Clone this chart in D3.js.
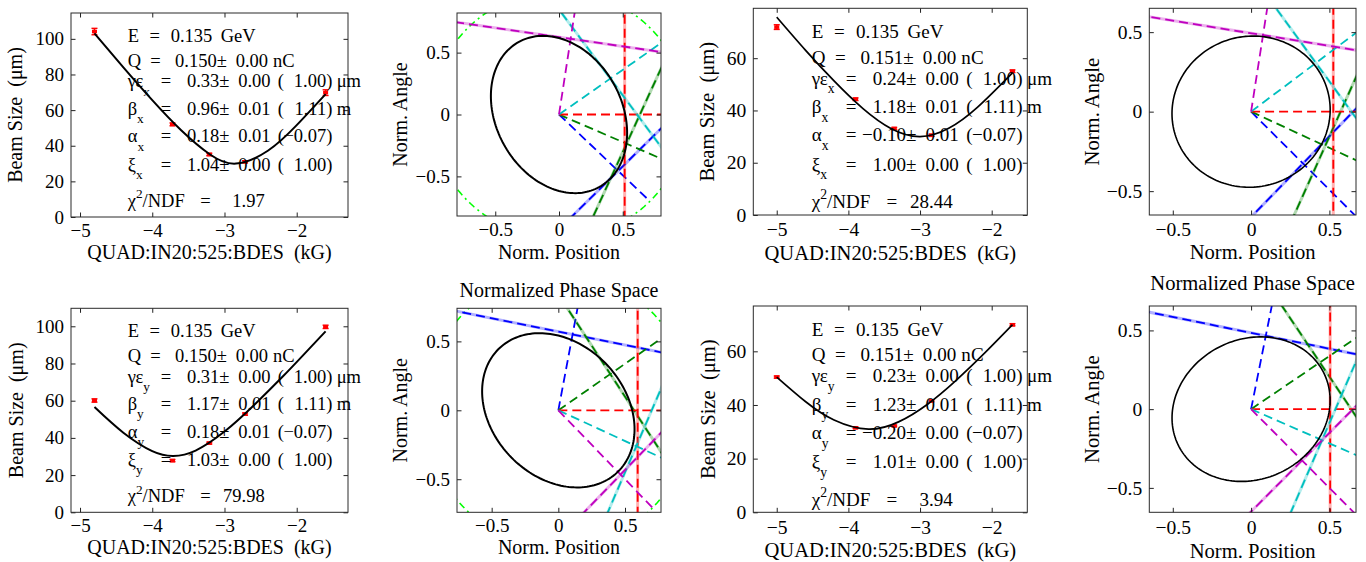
<!DOCTYPE html>
<html>
<head>
<meta charset="utf-8">
<script src="https://cdn.jsdelivr.net/npm/d3@7"></script>
<style>
  html, body { margin: 0; padding: 0; background: #fff; }
  svg, svg text { font-family: "Liberation Serif", "DejaVu Serif", "Times New Roman", serif; }
  text { white-space: pre; fill: #000; }
</style>
</head>
<body>
<svg id="fig" width="1366" height="562"></svg>
<script>
// ---- quad scan settings (kG) ----
const quadScan1 = [-4.80, -3.72, -3.21, -2.715, -1.60];
const quadScan2 = [-5.00, -3.90, -3.36, -2.84, -1.71];

// ---- measured beam sizes (um) with errors ----
const sizeX1 = [104.1, 52.0, 35.1, 31.0, 69.8];
const errX1  = [1.8, 0.8, 0.7, 0.6, 1.6];
const sizeY1 = [60.1, 27.8, 37.2, 52.8, 99.7];
const errY1  = [0.9, 0.6, 0.5, 0.6, 0.9];
const sizeX2 = [71.9, 44.3, 33.1, 30.5, 55.0];
const errX2  = [0.9, 0.5, 0.4, 0.4, 0.5];
const sizeY2 = [50.4, 31.5, 32.2, 41.5, 69.9];
const errY2  = [0.4, 0.3, 0.3, 0.3, 0.4];

// ---- fitted beam size curves (k in kG, sigma in um) ----
const fitKX1 = [-4.80, -4.40, -4.00, -3.60, -3.20, -2.84, -2.40, -2.00, -1.60];
const fitSX1 = [103.0, 84.0, 65.6, 48.7, 35.1, 30.0, 37.2, 51.6, 69.0];
const fitKY1 = [-4.80, -4.40, -4.00, -3.71, -3.40, -3.00, -2.60, -2.20, -1.90, -1.60];
const fitSY1 = [56.6, 42.8, 32.9, 30.3, 33.2, 43.4, 57.3, 72.7, 84.9, 97.3];
const fitKX2 = [-5.00, -4.60, -4.20, -3.80, -3.40, -3.00, -2.60, -2.20, -1.71];
const fitSX2 = [75.7, 63.1, 51.3, 40.8, 33.0, 30.0, 33.2, 41.2, 54.4];
const fitKY2 = [-5.00, -4.60, -4.20, -3.72, -3.30, -2.90, -2.50, -2.10, -1.71];
const fitSY2 = [50.4, 41.3, 34.4, 31.0, 33.7, 40.2, 49.1, 59.3, 69.9];

// ---- fit results: [value, error, design] ----
const energyGeV = 0.135;
const chargeScan1 = [0.150, 0.00];
const chargeScan2 = [0.151, 0.00];
const emitX1  = [0.33, 0.00, 1.00], betaX1 = [0.96, 0.01, 1.11], alphaX1 = [0.18, 0.01, -0.07], bmagX1 = [1.04, 0.00, 1.00];
const emitY1  = [0.31, 0.00, 1.00], betaY1 = [1.17, 0.01, 1.11], alphaY1 = [0.18, 0.01, -0.07], bmagY1 = [1.03, 0.00, 1.00];
const emitX2  = [0.24, 0.00, 1.00], betaX2 = [1.18, 0.01, 1.11], alphaX2 = [-0.10, 0.01, -0.07], bmagX2 = [1.00, 0.00, 1.00];
const emitY2  = [0.23, 0.00, 1.00], betaY2 = [1.23, 0.01, 1.11], alphaY2 = [-0.20, 0.00, -0.07], bmagY2 = [1.01, 0.00, 1.00];
const chi2NDF = [1.97, 79.98, 28.44, 3.94];

// ---- normalized phase space: measurement directions (deg) and line distances ----
const phaseAngX1 = [-44.5, -24.0, 0, 35.8, 81.5];
const phaseRadX1 = [0.650, 0.580, 0.515, 0.496, 0.618];
const phaseAngX2 = [-44.5, -24.5, 0, 36.5, 81.0];
const phaseRadX2 = [0.465, 0.520, 0.525, 0.515, 0.487];
const phaseAngY1 = [79.0, 34.0, 0, -24.0, -45.0];
const phaseRadY1 = [0.560, 0.470, 0.595, 0.640, 0.660];
const phaseAngY2 = [78.6, 34.0, 0, -23.5, -45.0];
const phaseRadY2 = [0.475, 0.530, 0.505, 0.494, 0.460];

// ---- ticks ----
const quadTicks = [-5, -4, -3, -2];
const beamSizeTicks = [0, 20, 40, 60, 80, 100];
const phaseTicks = [-0.5, 0, 0.5];

const colorOrder = ["#0000ff", "#008000", "#ff0000", "#00bfbf", "#bf00bf"];
const designColor = "#00ff00";
const FONT = "Liberation Serif, DejaVu Serif, Times New Roman, serif";

const svg = d3.select("#fig");
const deg = Math.PI / 180;
const tickFmt = d3.format("");
let clipId = 0;

const f2 = v => (v < 0 ? "\u2212" : "") + Math.abs(v).toFixed(2);

function frame(g, x, y, xt, yt, box, s, tickGap) {
  const fs = 19 * s;
  const xv = xt.filter(v => v >= x.domain()[0] && v <= x.domain()[1]);
  const yv = yt.filter(v => v >= y.domain()[0] && v <= y.domain()[1]);
  const style = sel => {
    sel.select(".domain").remove();
    sel.attr("font-family", FONT).attr("font-size", fs).attr("color", "#222");
    sel.selectAll("line").attr("stroke-width", 1);
  };
  g.append("g").attr("transform", `translate(${box.x0},0)`)
    .call(d3.axisLeft(y).tickValues(yv).tickSize(-4.5).tickPadding(7).tickFormat(tickFmt)).call(style);
  g.append("g").attr("transform", `translate(${box.x1},0)`)
    .call(d3.axisRight(y).tickValues(yv).tickSize(-4.5).tickFormat("")).call(style);
  g.append("g").attr("transform", `translate(0,${box.y1})`)
    .call(d3.axisBottom(x).tickValues(xv).tickSize(-4.5).tickPadding(tickGap).tickFormat(tickFmt)).call(style);
  g.append("g").attr("transform", `translate(0,${box.y0})`)
    .call(d3.axisTop(x).tickValues(xv).tickSize(-4.5).tickFormat("")).call(style);
  g.append("rect").attr("x", box.x0).attr("y", box.y0)
    .attr("width", box.x1 - box.x0).attr("height", box.y1 - box.y0)
    .attr("fill", "none").attr("stroke", "#2a2a2a").attr("stroke-width", 1);
}

function txt(g, x, y, fs, anchor) {
  return g.append("text").attr("x", x).attr("y", y).attr("font-size", fs)
    .attr("font-family", FONT).attr("text-anchor", anchor || "start");
}

function axisLabels(g, box, s, xlab, ylab, xOff, yOff) {
  const fs = 20 * s;
  txt(g, (box.x0 + box.x1) / 2, box.y1 + xOff, fs, "middle").text(xlab);
  const cy = (box.y0 + box.y1) / 2, cx = box.x0 - yOff;
  g.append("text").attr("transform", `translate(${cx},${cy}) rotate(-90)`).attr("font-family", FONT)
    .attr("text-anchor", "middle").attr("font-size", fs).text(ylab);
}

function statBlock(g, p) {
  const s = p.s, fs = 18.5 * s;
  const x0 = p.box.x0 + 56.7 * s;
  const top = p.box.y0 + 28.7 * s;
  const off = [0, 25, 45.5, 73, 100.5, 129, 165].map(d => top + d * s);
  const put = (dx, y, str, anchor) => txt(g, x0 + dx * s, y, fs, anchor).text(str);

  // beam energy
  put(0, off[0], "E");
  put(21.7, off[0], "=");
  put(43, off[0], energyGeV.toFixed(3));
  put(93, off[0], "GeV");

  // bunch charge
  put(0, off[1], "Q");
  put(22.5, off[1], "=");
  put(89, off[1], p.charge[0].toFixed(3), "end");
  put(89, off[1], "\u00b1");
  put(140.3, off[1], f2(p.charge[1]), "end");
  put(145.3, off[1], "nC");

  // Twiss parameters: value ± error (design)
  const rows = [
    ["\u03b3\u03b5", p.emit, "\u03bcm"],
    ["\u03b2", p.beta, "m"],
    ["\u03b1", p.alpha, ""],
    ["\u03be", p.bmag, ""]
  ];
  rows.forEach((r, i) => {
    const y = off[2 + i];
    const t = txt(g, x0, y, fs);
    t.append("tspan").text(r[0]);
    t.append("tspan").attr("font-size", fs * 0.72).attr("dy", fs * 0.45).text(p.plane);
    put(33, y, "=");
    put(91.6, y, f2(r[1][0]), "end");
    put(91.6, y, "\u00b1");
    put(142.9, y, f2(r[1][1]), "end");
    put(150, y, "(");
    put(198.5, y, f2(r[1][2]), "end");
    put(198.5, y, ")");
    if (r[2]) put(209, y, r[2]);
  });

  // fit quality
  const t = txt(g, x0, off[6], fs);
  t.append("tspan").text("\u03c7");
  t.append("tspan").attr("font-size", fs * 0.72).attr("dy", -fs * 0.45).text("2");
  t.append("tspan").attr("font-size", fs).attr("dy", fs * 0.45).text("/NDF");
  put(72.5, off[6], "=");
  put(137, off[6], p.chi2.toFixed(2), "end");
}

function beamPanel(p) {
  const g = svg.append("g");
  const x = d3.scaleLinear().domain(p.kDomain).range([p.box.x0, p.box.x1]);
  const y = d3.scaleLinear().domain([0, 1.1 * d3.max(p.size)]).range([p.box.y1, p.box.y0]);

  // measured points with error bars
  const pts = g.append("g").attr("stroke", "#ff0000").attr("fill", "#ff0000");
  p.k.forEach((k, i) => {
    const cx = x(k), lo = y(p.size[i] - p.err[i]), hi = y(p.size[i] + p.err[i]);
    pts.append("line").attr("x1", cx).attr("x2", cx).attr("y1", lo).attr("y2", hi).attr("stroke-width", 1.6);
    [lo, hi].forEach(yy => pts.append("line").attr("x1", cx - 3).attr("x2", cx + 3)
      .attr("y1", yy).attr("y2", yy).attr("stroke-width", 1.4));
    pts.append("rect").attr("x", cx - 2.5).attr("y", y(p.size[i]) - 1.8)
      .attr("width", 5).attr("height", 3.6).attr("stroke", "none");
  });

  // fitted curve
  g.append("path").datum(d3.zip(p.fitK, p.fitS))
    .attr("fill", "none").attr("stroke", "#000").attr("stroke-width", p.lw)
    .attr("d", d3.line().x(d => x(d[0])).y(d => y(d[1])).curve(d3.curveNatural));

  frame(g, x, y, quadTicks, beamSizeTicks, p.box, p.s, p.tickGap);
  statBlock(g, p);
  axisLabels(g, p.box, p.s, "QUAD:IN20:525:BDES  (kG)", "Beam Size  (\u03bcm)", p.xlabOff, p.ylabOff);
}

function ellipsePoints(emit, beta, alpha) {
  // beam ellipse in phase space normalized to the design Twiss parameters
  const e = emit[0] / emit[2];
  const bt = beta[0] / beta[2];
  const at = alpha[0] - alpha[2] * bt;
  return d3.range(0, 360, 2).map(a => {
    const t = a * deg;
    return [Math.sqrt(e * bt) * Math.cos(t), -Math.sqrt(e / bt) * (at * Math.cos(t) + Math.sin(t))];
  });
}

function phasePanel(p) {
  const g = svg.append("g");
  const box = p.box;
  const x = d3.scaleLinear().domain(p.xDomain).range([box.x0, box.x1]);
  const y = d3.scaleLinear().domain(p.yDomain).range([box.y1, box.y0]);
  const id = "clip" + (clipId++);
  g.append("clipPath").attr("id", id).append("rect")
    .attr("x", box.x0).attr("y", box.y0).attr("width", box.x1 - box.x0).attr("height", box.y1 - box.y0);
  const inner = g.append("g").attr("clip-path", `url(#${id})`);
  const line = d3.line().x(d => x(d[0])).y(d => y(d[1]));

  // design beam: unit circle
  const rDesign = Math.sqrt(p.emit[2] / p.emit[2]);
  inner.append("path").datum(d3.range(0, 360, 2).map(a => [rDesign * Math.cos(a * deg), rDesign * Math.sin(a * deg)]))
    .attr("fill", "none").attr("stroke", designColor).attr("stroke-width", 1.6)
    .attr("stroke-dasharray", "7,4,2,4").attr("d", d3.line().x(d => x(d[0])).y(d => y(d[1])).curve(d3.curveLinearClosed));

  // measurement lines
  p.ang.forEach((a, i) => {
    const c = colorOrder[i], r = p.rad[i];
    const ux = Math.cos(a * deg), uy = Math.sin(a * deg);
    const seg = [[r * ux + 3 * uy, r * uy - 3 * ux], [r * ux - 3 * uy, r * uy + 3 * ux]];
    inner.append("path").datum(seg).attr("stroke", c).attr("stroke-opacity", 0.3)
      .attr("stroke-width", 3).attr("fill", "none").attr("d", line);
    inner.append("path").datum(seg).attr("stroke", c).attr("stroke-width", 1.8)
      .attr("stroke-dasharray", "9,5").attr("fill", "none").attr("d", line);
    inner.append("path").datum([[0, 0], [rDesign * ux, rDesign * uy]]).attr("stroke", c).attr("stroke-width", 1.8)
      .attr("stroke-dasharray", "9,5").attr("fill", "none").attr("d", line);
  });

  // fitted beam ellipse
  inner.append("path").datum(ellipsePoints(p.emit, p.beta, p.alpha))
    .attr("fill", "none").attr("stroke", "#000").attr("stroke-width", p.lw)
    .attr("d", d3.line().x(d => x(d[0])).y(d => y(d[1])).curve(d3.curveLinearClosed));

  frame(g, x, y, phaseTicks, phaseTicks, box, p.s, p.tickGap);
  axisLabels(g, box, p.s, "Norm. Position", "Norm. Angle", p.xlabOff, 50.5);
  if (p.title) {
    txt(g, (box.x0 + box.x1) / 2, p.titleY, 20 * p.s, "middle").text("Normalized Phase Space");
  }
}

const S2 = 1.03;

beamPanel({ box: { x0: 71, x1: 348, y0: 13, y1: 217 }, kDomain: [-5.125, -1.29], k: quadScan1,
  size: sizeX1, err: errX1, fitK: fitKX1, fitS: fitSX1, plane: "x", charge: chargeScan1,
  emit: emitX1, beta: betaX1, alpha: alphaX1, bmag: bmagX1, chi2: chi2NDF[0],
  s: 1, lw: 2, tickGap: 6.5, xlabOff: 41.5, ylabOff: 49 });
beamPanel({ box: { x0: 71, x1: 348, y0: 308.3, y1: 512.3 }, kDomain: [-5.125, -1.29], k: quadScan1,
  size: sizeY1, err: errY1, fitK: fitKY1, fitS: fitSY1, plane: "y", charge: chargeScan1,
  emit: emitY1, beta: betaY1, alpha: alphaY1, bmag: bmagY1, chi2: chi2NDF[1],
  s: 1, lw: 2, tickGap: 6.5, xlabOff: 42, ylabOff: 48 });
beamPanel({ box: { x0: 753.3, x1: 1027.3, y0: 8.3, y1: 215 }, kDomain: [-5.327, -1.503], k: quadScan2,
  size: sizeX2, err: errX2, fitK: fitKX2, fitS: fitSX2, plane: "x", charge: chargeScan2,
  emit: emitX2, beta: betaX2, alpha: alphaX2, bmag: bmagX2, chi2: chi2NDF[2],
  s: S2, lw: 1.7, tickGap: 7.5, xlabOff: 45, ylabOff: 39 });
beamPanel({ box: { x0: 753.3, x1: 1027.3, y0: 306, y1: 512.3 }, kDomain: [-5.327, -1.503], k: quadScan2,
  size: sizeY2, err: errY2, fitK: fitKY2, fitS: fitSY2, plane: "y", charge: chargeScan2,
  emit: emitY2, beta: betaY2, alpha: alphaY2, bmag: bmagY2, chi2: chi2NDF[3],
  s: S2, lw: 1.7, tickGap: 7.5, xlabOff: 45, ylabOff: 38.5 });

phasePanel({ box: { x0: 457, x1: 661, y0: 13, y1: 216 }, xDomain: [-0.80, 0.80], yDomain: [-0.82, 0.82],
  ang: phaseAngX1, rad: phaseRadX1, emit: emitX1, beta: betaX1, alpha: alphaX1,
  s: 1, lw: 2, tickGap: 6.5, xlabOff: 43 });
phasePanel({ box: { x0: 457, x1: 661, y0: 308.3, y1: 512.3 }, xDomain: [-0.76, 0.77], yDomain: [-0.74, 0.74],
  ang: phaseAngY1, rad: phaseRadY1, emit: emitY1, beta: betaY1, alpha: alphaY1,
  s: 1, lw: 2, tickGap: 6.5, xlabOff: 41.5, title: true, titleY: 297 });
phasePanel({ box: { x0: 1149.3, x1: 1356, y0: 8.3, y1: 215 }, xDomain: [-0.65, 0.67], yDomain: [-0.65, 0.65],
  ang: phaseAngX2, rad: phaseRadX2, emit: emitX2, beta: betaX2, alpha: alphaX2,
  s: S2, lw: 1.6, tickGap: 7.5, xlabOff: 44 });
phasePanel({ box: { x0: 1149.3, x1: 1356, y0: 306, y1: 512.3 }, xDomain: [-0.65, 0.67], yDomain: [-0.655, 0.655],
  ang: phaseAngY2, rad: phaseRadY2, emit: emitY2, beta: betaY2, alpha: alphaY2,
  s: S2, lw: 1.6, tickGap: 7.5, xlabOff: 45.5, title: true, titleY: 290 });
</script>
</body>
</html>
